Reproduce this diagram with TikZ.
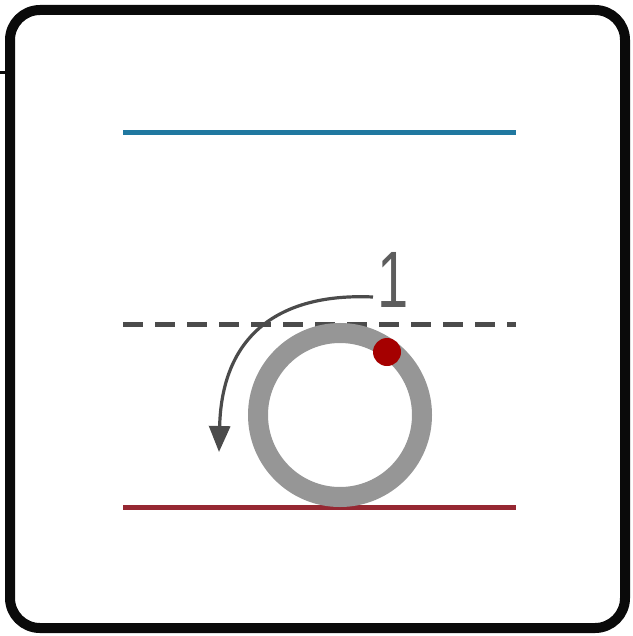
\documentclass[tikz,border=0pt]{standalone}
\usepackage{fontspec}
\setmainfont{Liberation Sans}
\usetikzlibrary{arrows.meta}
\definecolor{frameblk}{RGB}{10,10,10}
\definecolor{topblue}{RGB}{32,120,160}
\definecolor{dashgray}{RGB}{75,75,75}
\definecolor{botred}{RGB}{150,40,50}
\definecolor{ringgray}{RGB}{150,150,150}
\definecolor{dotred}{RGB}{165,0,0}

\begin{document}
\begin{tikzpicture}[x=1pt,y=-1pt,>={Triangle[length=26pt,width=21pt]},
level/.style={line width=5pt},
ring/.style={circle,draw=ringgray,line width=20pt,minimum size=164pt,inner sep=0pt},
dot/.style={circle,fill=dotred,minimum size=28pt,inner sep=0pt},
turn/.style={->,line width=3.2pt,dashgray}]
\useasboundingbox (0,0) rectangle (632,636);
% frame
\draw[frameblk,line width=10pt,rounded corners=30pt] (10,10) rectangle (625,628);
\draw[frameblk,line width=3pt] (0,73) -- (8,73);
% levels
\draw[level,topblue] (123,133) -- (516,133);
\draw[level,dashgray,dash pattern=on 20pt off 12pt] (123,324) -- (516,324);
\draw[level,botred] (123,507) -- (516,507);
% ring with marker
\node[ring] (wheel) at (340,415) {};
\node[dot] (marker) at (387,352) {};
\node[text=dashgray!90,font=\fontsize{80}{80}\selectfont,inner sep=0pt] (one) at (393,280) {\scalebox{0.7}[1]{1}};
\coordinate (start) at (373,297);
\coordinate (tip) at (219,452);
\draw[turn] (start) .. controls (285,293) and (222,330) .. (tip);
\end{tikzpicture}
\end{document}
